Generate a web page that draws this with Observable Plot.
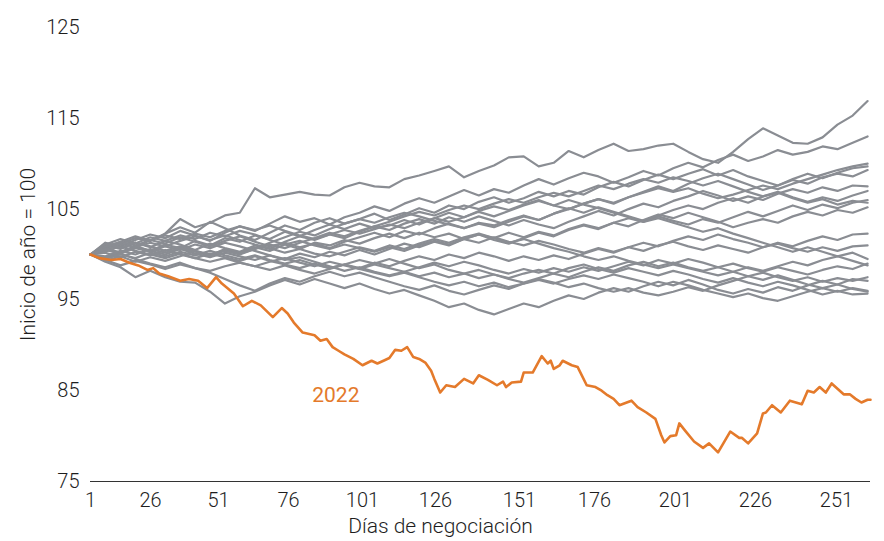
<!DOCTYPE html>
<html>
<head>
<meta charset="utf-8">
<script src="https://cdn.jsdelivr.net/npm/d3@7"></script>
<script src="https://cdn.jsdelivr.net/npm/@observablehq/plot@0.6"></script>
<style>
  html, body { margin: 0; padding: 0; background: #fff; }
  #chart svg { display: block; }
</style>
</head>
<body>
<div id="chart"></div>
<script>
// ---- Data ----
const xTicks = [1, 26, 51, 76, 101, 126, 151, 176, 201, 226, 251];
const yTicks = [75, 85, 95, 105, 115, 125];
const xLabel = "Días de negociación";
const yLabel = "Inicio de año = 100";
const highlightName = "2022";

// trading day of each sampled point of the grey paths (as read against the axis labels)
const greyDays = [1,7.2,13.5,19.7,25.9,31.4,36.9,42.4,47.9,53.3,58.6,64.0,69.3,74.7,79.8,84.8,89.9,94.9,100.0,105.1,110.2,115.3,120.4,125.6,130.0,134.5,138.9,143.4,147.8,152.4,157.4,162.4,167.4,172.4,177.2,181.9,186.5,191.1,195.7,200.3,205.0,209.6,214.3,219.0,223.7,228.3,232.9,237.5,242.1,246.7,251.3,256.0,260.6];

const s01 = [100,100.8,101.2,101.8,101.5,102.3,103.9,103.0,103.5,104.3,104.6,107.3,106.3,106.6,106.9,106.6,106.5,107.4,107.9,107.5,107.4,108.3,108.7,109.2,109.7,108.5,109.2,109.8,110.7,110.8,109.7,110.1,111.4,110.7,111.5,112.2,111.4,111.6,112.0,112.2,111.3,110.5,110.1,111.3,112.7,113.9,113.1,112.3,112.2,112.9,114.3,115.3,116.9];
const s02 = [100,101.3,100.9,101.6,102.2,101.8,102.6,102.1,101.5,102.4,103.1,102.6,103.4,104.2,103.6,104.0,103.3,104.1,104.6,105.3,104.8,105.6,106.2,105.7,106.4,107.1,106.5,107.2,106.8,107.6,108.3,107.7,108.4,109.0,108.6,107.9,108.5,109.2,108.7,109.5,110.1,109.6,110.4,111.0,110.3,110.8,111.5,111.0,111.3,111.9,111.6,112.3,113.0];
const s03 = [100,100.6,101.4,102.0,101.5,102.3,103.0,102.4,103.6,102.9,102.1,101.6,102.4,103.2,102.7,103.5,104.0,103.4,103.9,104.5,103.8,104.4,105.1,104.6,105.4,105.0,105.8,106.3,105.7,106.2,106.9,106.4,107.0,106.6,107.4,108.0,107.5,108.2,108.8,108.3,108.9,109.4,108.7,109.3,108.6,108.1,107.6,108.3,108.9,108.4,109.0,109.5,109.7];
const s04 = [100,99.6,100.3,100.9,100.4,101.1,100.7,101.5,101.0,101.8,101.4,102.1,101.7,102.5,102.0,102.7,103.3,102.8,103.4,102.9,103.2,103.8,103.3,104.0,104.6,104.1,104.8,105.3,104.9,105.5,106.0,105.4,105.0,105.6,106.1,105.6,106.3,106.9,107.5,107.0,107.8,108.4,108.9,108.3,107.7,107.1,107.6,108.2,107.8,108.5,108.9,108.6,109.3];
const s05 = [100,101.0,100.6,101.3,100.8,101.5,101.1,100.5,101.2,100.7,100.3,101.0,100.6,101.4,102.0,101.6,102.2,101.8,102.5,103.1,102.7,103.4,103.9,103.4,104.1,103.6,104.2,103.7,103.2,103.8,103.3,102.9,103.6,104.2,104.8,104.3,105.0,105.6,105.2,105.9,106.4,107.0,106.5,105.9,106.4,106.0,106.7,107.2,106.8,107.4,107.0,107.6,107.5];
const s06 = [100,100.4,101.2,100.8,101.6,101.2,101.9,101.4,100.9,101.5,102.0,101.4,100.9,101.3,100.8,101.2,100.7,101.4,101.9,102.4,101.9,102.6,102.2,102.9,103.4,102.9,103.5,103.2,103.8,104.3,103.8,104.5,105.1,104.6,105.2,104.7,104.2,103.7,104.3,104.9,105.4,105.0,105.7,106.2,105.7,106.4,106.9,106.3,105.8,106.3,105.9,106.5,107.0];
const s07 = [100,99.3,99.8,99.2,99.7,99.3,99.8,100.4,99.9,100.6,100.2,100.8,100.4,101.1,100.6,101.3,101.0,101.6,101.2,101.8,102.3,101.8,102.4,101.9,102.3,101.7,102.2,101.6,101.2,101.8,102.4,102.0,102.7,103.2,102.8,103.5,104.0,103.6,104.2,103.7,103.3,103.9,103.5,104.1,104.7,104.2,104.8,105.4,104.9,105.5,105.1,105.7,106.0];
const s08 = [100,100.7,100.2,100.9,100.4,100.0,100.6,100.1,99.7,100.2,99.8,99.4,99.9,99.5,100.1,99.7,100.3,99.9,100.5,100.0,100.6,101.2,100.8,101.4,101.0,101.7,102.2,101.8,102.4,101.9,102.5,102.1,102.8,103.3,102.9,103.5,103.1,103.8,104.4,104.0,104.6,104.1,103.6,103.0,103.5,103.9,103.5,104.2,104.7,104.3,104.9,104.6,105.2];
const s09 = [100,101.1,101.7,101.2,101.9,101.5,102.1,101.7,102.4,102.0,102.6,102.2,101.6,101.1,101.5,101.0,100.6,101.1,100.7,100.3,100.8,100.4,101.0,101.5,101.1,101.7,101.3,101.9,101.4,101.0,101.5,101.1,100.6,100.2,100.7,100.3,100.8,100.4,101.0,101.4,100.9,100.5,101.0,100.6,100.2,100.8,101.3,100.9,101.5,102.0,101.6,102.2,102.3];
const s10 = [100,100.3,100.9,100.4,100.0,99.6,100.1,99.6,99.2,99.6,99.1,98.7,98.3,98.8,98.3,97.9,98.4,98.9,98.5,99.1,98.7,99.3,99.8,99.4,100.0,99.6,100.2,99.8,99.3,99.8,99.4,99.9,99.5,100.1,100.6,100.2,100.8,101.3,100.9,101.5,102.0,101.6,102.2,101.7,101.3,100.8,101.2,100.7,100.3,100.8,100.4,100.9,101.0];
const s11 = [100,99.4,98.8,99.3,98.9,98.4,98.9,98.5,98.2,98.7,99.1,98.7,99.2,99.6,99.1,98.7,99.2,98.8,98.4,98.9,98.5,98.1,98.6,99.1,98.7,99.2,98.8,98.3,97.9,98.4,98.0,98.5,98.1,98.6,98.2,98.7,99.2,98.8,99.4,99.0,99.5,99.1,98.6,99.0,98.5,98.1,98.6,98.2,97.8,98.3,98.7,98.4,99.0];
const s12 = [100,100.5,100.1,100.7,100.3,100.9,100.5,101.1,100.7,101.3,100.9,100.4,99.9,99.4,99.7,99.2,98.7,98.2,98.6,98.1,97.7,98.1,97.6,98.0,97.5,97.9,97.4,97.8,97.3,96.9,97.4,97.9,97.5,98.1,98.6,98.2,98.8,99.2,98.7,99.1,98.6,98.2,98.6,98.1,97.6,98.0,97.5,97.1,97.5,97.0,97.4,97.1,97.5];
const s13 = [100,99.2,98.6,97.5,98.2,97.5,97.0,96.9,95.9,94.6,95.4,95.9,96.6,97.2,96.7,97.3,96.8,96.3,96.8,96.2,95.7,96.1,95.5,94.9,94.2,94.6,93.9,93.4,94.0,94.6,94.2,94.9,95.5,95.1,95.8,96.3,95.9,96.5,97.0,96.6,97.2,96.7,96.1,95.7,96.2,95.8,96.4,96.0,96.6,97.1,96.7,97.3,97.1];
const s14 = [100,99.6,100.1,99.5,99.0,98.6,99.1,98.5,98.0,97.3,96.6,96.0,96.8,97.4,97.0,97.6,98.1,97.6,98.0,97.5,97.0,96.5,96.1,96.6,96.0,95.6,96.1,96.6,96.2,96.8,97.2,96.8,97.3,97.7,97.3,97.8,97.4,97.0,96.5,97.0,96.6,96.1,95.7,95.3,95.7,95.2,94.9,95.4,95.9,96.3,95.9,96.3,96.0];
const s15 = [100,100.2,99.7,100.3,99.9,100.5,100.0,99.6,100.1,99.7,99.3,99.8,99.3,98.9,98.5,99.0,98.5,98.9,99.4,99.0,99.5,99.0,98.5,98.9,98.3,97.9,98.3,97.8,97.4,97.9,98.3,97.9,98.5,98.9,98.4,98.0,98.5,98.1,97.7,98.2,97.8,97.3,96.9,97.4,96.9,96.5,97.0,96.6,96.1,95.6,96.0,95.6,95.7];
const s16 = [100,100.9,101.4,101.0,101.6,102.1,101.7,102.3,101.9,102.6,103.1,102.7,103.2,102.6,102.1,101.7,102.2,102.7,102.3,102.8,103.3,102.9,103.5,104.0,103.6,104.1,104.7,104.2,104.8,105.4,105.9,105.4,106.0,105.5,105.1,104.6,104.1,103.6,104.0,103.5,103.0,102.5,102.9,102.3,101.8,101.3,100.8,100.3,100.8,100.3,99.8,100.2,99.5];
const s17 = [100,100.6,100.2,100.8,101.3,100.9,101.5,102.0,101.6,102.1,101.6,101.1,100.7,100.2,100.6,100.1,99.8,100.3,100.8,100.4,101.0,100.6,101.2,101.7,101.3,101.9,102.3,101.8,101.3,101.7,101.2,100.7,100.3,99.8,99.4,99.8,99.3,98.9,98.5,98.9,98.5,98.1,97.7,98.1,98.6,98.2,98.7,99.2,98.8,99.4,99.8,99.3,98.8];
const s18 = [100,101.2,100.7,101.3,100.9,100.4,100.9,100.4,100.0,100.5,100.1,100.6,101.1,100.7,101.3,101.8,102.4,102.0,102.6,103.1,103.6,104.2,104.7,104.3,104.9,105.4,105.0,105.6,106.1,105.7,106.3,106.8,106.4,107.0,107.6,107.2,107.8,108.3,107.9,108.5,108.1,107.6,108.1,107.5,106.9,106.4,106.8,106.2,105.7,106.1,105.5,105.9,105.7];
const s19 = [100,99.8,100.4,100.0,100.6,100.2,100.7,100.3,99.9,100.4,100.0,100.6,101.3,101.9,102.5,102.1,102.8,103.4,103.9,103.5,104.1,104.6,104.2,103.7,103.3,102.9,103.4,103.0,103.6,104.2,103.8,104.5,105.0,105.6,106.1,105.7,106.3,106.8,107.3,106.9,107.3,106.7,106.2,106.6,107.1,107.6,107.2,107.8,108.3,108.8,109.3,109.7,110.0];
const s20 = [100,99.5,100.0,99.6,100.2,99.8,100.3,99.9,100.4,99.9,99.5,99.9,99.4,99.0,99.4,98.9,98.5,98.9,98.4,98.0,97.6,98.0,97.5,97.0,96.6,97.0,96.5,96.9,96.4,96.8,97.3,96.9,96.4,96.8,96.3,95.9,96.3,95.8,95.5,95.9,96.4,96.0,96.6,97.1,97.6,97.2,97.7,97.2,96.7,96.3,96.7,96.2,95.9];
const greySeries = [s01,s02,s03,s04,s05,s06,s07,s08,s09,s10,s11,s12,s13,s14,s15,s16,s17,s18,s19,s20];

// 2022 path (trading day, index level)
const days2022 = [1,4.7,9.7,13.5,17.2,20.9,24.7,27.0,29.2,32.5,36.9,40.2,43.5,46.8,50.1,52.2,56.5,59.7,62.9,66.1,70.4,73.6,75.7,77.8,80.8,84.8,86.8,88.9,90.9,92.9,94.9,97.9,101.0,104.1,106.1,108.2,110.2,112.2,114.3,116.3,118.4,120.4,122.5,124.5,125.6,127.4,129.2,131.8,134.5,137.2,138.9,141.6,144.3,146.1,147.0,148.7,151.5,152.4,155.4,158.4,160.4,161.4,162.4,164.4,165.4,168.4,170.4,173.4,176.3,178.2,180.0,181.9,183.7,187.4,189.3,192.0,194.8,196.6,197.6,199.4,201.2,202.2,204.0,206.8,209.6,211.5,214.3,218.1,220.9,221.8,223.7,226.5,228.3,229.2,231.1,233.8,236.6,240.3,242.1,244.0,245.8,247.7,249.5,253.2,255.1,256.9,258.7,260.6,261.5];
const vals2022 = [100,99.6,99.4,99.5,99.1,98.8,98.3,98.5,97.9,97.6,97.1,97.3,97.1,96.3,97.5,96.8,95.7,94.3,94.9,94.4,93.1,94.1,93.5,92.5,91.4,91.1,90.5,90.7,89.8,89.4,89.0,88.5,87.8,88.3,88.0,88.3,88.6,89.5,89.4,89.8,88.7,88.5,88.1,87.2,86.3,84.8,85.6,85.4,86.3,85.8,86.7,86.2,85.6,86.0,85.4,85.9,86.0,87.0,87.0,88.8,88.0,88.3,87.4,87.8,88.3,87.8,87.6,85.6,85.4,85.0,84.5,84.1,83.4,83.9,83.2,82.6,81.9,80.1,79.3,80.0,80.1,81.4,80.6,79.4,78.7,79.2,78.2,80.5,79.8,79.8,79.2,80.3,82.5,82.6,83.4,82.6,83.9,83.5,85.0,84.8,85.4,84.8,85.8,84.6,84.6,84.1,83.7,84.0,84.0];

// 2022 annotation anchor (data coordinates)
const label2022Day = 92;
const label2022Value = 84.5;

// ---- Tables built from the arrays ----
const greyTable = greySeries.flatMap((vals, k) =>
  vals.map((v, i) => ({ day: greyDays[i], value: v, serie: "Serie " + (k + 1) }))
);
const table2022 = days2022.map((d, i) => ({ day: d, value: vals2022[i] }));

const GREY = "#8a8d93";
const ORANGE = "#e47a2b";
const INK = "#1e1e1e";
const FONT = "Roboto, 'Liberation Sans', Arial, sans-serif";

const chart = Plot.plot({
  width: 884,
  height: 541,
  marginLeft: 90,
  marginRight: 14,
  marginTop: 27,
  marginBottom: 60,
  style: { fontFamily: FONT, fontSize: "20px", fontWeight: 300, color: INK, background: "#fff" },
  // piecewise-linear x scale following the reference's tick placement
  x: { type: "linear", domain: [1, 26, 51, 76, 101, 126, 151, 176, 201, 226, 251, 261.5],
       range: [90, 150, 218, 288, 362, 435, 519, 594, 675, 755, 836, 870] },
  y: { domain: [75, 125] },
  marks: [
    Plot.axisY({ ticks: yTicks, tickSize: 0, tickPadding: 11, label: null, fontSize: 20, fill: INK }),
    Plot.axisX({ ticks: xTicks, tickSize: 0, tickPadding: 11, label: null, fontSize: 20, fill: INK }),
    Plot.ruleY([75], { stroke: "#333", strokeWidth: 1.2 }),
    Plot.line(greyTable, { x: "day", y: "value", z: "serie", stroke: GREY, strokeWidth: 2.2, strokeLinejoin: "round" }),
    Plot.line(table2022, { x: "day", y: "value", stroke: ORANGE, strokeWidth: 2.6, strokeLinejoin: "round" }),
    Plot.text([highlightName], { x: () => label2022Day, y: () => label2022Value, text: d => d, fill: ORANGE, fontSize: 21, fontWeight: 400 }),
    Plot.text([xLabel], { frameAnchor: "bottom", textAnchor: "middle", lineAnchor: "middle", dx: -40, dy: 45, text: d => d, fill: INK, fontSize: 21 }),
    Plot.text([yLabel], { frameAnchor: "left", textAnchor: "middle", lineAnchor: "middle", dx: -62, rotate: -90, text: d => d, fill: INK, fontSize: 21 })
  ]
});
document.getElementById("chart").appendChild(chart);
</script>
</body>
</html>
